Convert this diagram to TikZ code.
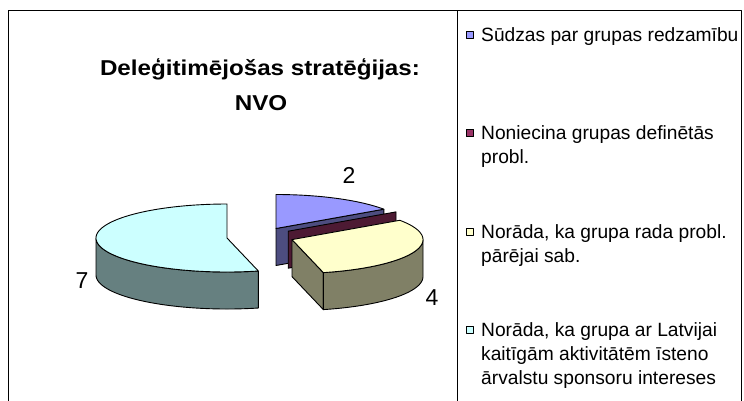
\documentclass[tikz,border=0pt]{standalone}
\usepackage{fontspec}
\usepackage{graphicx}
\setmainfont{Liberation Sans}
\newcommand\myths[1]{\scalebox{1.125}[1]{#1}}
\definecolor{bluetop}{HTML}{9999FF}
\definecolor{blueside}{HTML}{4D4D80}
\definecolor{martop}{HTML}{993366}
\definecolor{marside}{HTML}{4D1A33}
\definecolor{yeltop}{HTML}{FFFFCC}
\definecolor{yelside}{HTML}{808066}
\definecolor{cyntop}{HTML}{CCFFFF}
\definecolor{cynside}{HTML}{668080}
\begin{document}
\begin{tikzpicture}[x=1pt,y=-1pt,line join=round,
  face/.style={draw=black,line width=0.9pt},
  frame/.style={draw=black,line width=1pt},
  lgtext/.style={font=\fontsize{19.2}{24}\selectfont,anchor=base west,inner sep=0pt},
  lgsq/.style={draw=black,line width=0.7pt},
  val/.style={font=\fontsize{23}{26}\selectfont,inner sep=0pt},
  ttl/.style={font=\bfseries\fontsize{21.5}{26}\selectfont,anchor=base,inner sep=0pt}]
\useasboundingbox (0,0) rectangle (744,400);
\clip (0,0) rectangle (744,400);
% frame
\draw[frame] (8,10.5) rectangle (741,420);
\draw[frame] (457.7,10.5) -- (457.7,420);
% title
\node[ttl] (t1) at (260,75) {\myths{Deleģitimējošas stratēģijas:}};
\node[ttl] (t2) at (261,110) {\myths{NVO}};
% ---- cyan slice (7)
\def\cxa{227}\def\cya{238}
\draw[face,fill=cynside] plot[domain=180:283.85,samples=60] ({\cxa+131*cos(\x)},{\cya-34*sin(\x)})
  -- plot[domain=283.85:180,samples=60] ({\cxa+131*cos(\x)},{\cya-34*sin(\x)+37}) -- cycle;
\draw[face,fill=cyntop] (\cxa,\cya) -- plot[domain=90:283.85,samples=90] ({\cxa+131*cos(\x)},{\cya-34*sin(\x)}) -- cycle;
% ---- blue slice (2)
\def\cxb{276}\def\cyb{228.5}
\coordinate (btip) at ({\cxb+131*cos(34.62)},{\cyb-34*sin(34.62)});
\draw[face,fill=blueside] (\cxb,\cyb) -- (btip) -- ++(0,37) -- (\cxb,{\cyb+37}) -- cycle;
\draw[face,fill=bluetop] (\cxb,\cyb) -- plot[domain=34.62:90,samples=40] ({\cxb+131*cos(\x)},{\cyb-34*sin(\x)}) -- cycle;
% ---- maroon slice (0)
\def\cxm{288.2}\def\cym{231.2}
\coordinate (mtip) at ({\cxm+131*cos(34.62)},{\cym-34*sin(34.62)});
\draw[face,fill=marside] (\cxm,\cym) -- (mtip) -- ++(0,37) -- (\cxm,{\cym+37}) -- cycle;
% ---- yellow slice (4)
\def\cxy{292}\def\cyy{239.6}
\coordinate (yfront) at ({\cxy+131*cos(-76.15)},{\cyy-34*sin(-76.15)});
\draw[face,fill=yelside] (\cxy,\cyy) -- (yfront) -- ++(0,37) -- (\cxy,{\cyy+37}) -- cycle;
\draw[face,fill=yelside] plot[domain=-76.15:0,samples=40] ({\cxy+131*cos(\x)},{\cyy-34*sin(\x)})
  -- plot[domain=0:-76.15,samples=40] ({\cxy+131*cos(\x)},{\cyy-34*sin(\x)+37}) -- cycle;
\draw[face,fill=yeltop] (\cxy,\cyy) -- plot[domain=-76.15:34.62,samples=70] ({\cxy+131*cos(\x)},{\cyy-34*sin(\x)}) -- cycle;
% ---- value labels
\node[val] (v2) at (349,175) {2};
\node[val] (v7) at (82,281) {7};
\node[val] (v4) at (432,298) {4};
% ---- legend
\draw[lgsq,fill=bluetop] (466,31) rectangle (473.5,38.5);
\node[lgtext] (la1) at (481,41) {Sūdzas par grupas redzamību};
\draw[lgsq,fill=martop] (466,129) rectangle (473.5,136.5);
\node[lgtext] (lb1) at (481,139) {Noniecina grupas definētās};
\node[lgtext] (lb2) at (481,163) {probl.};
\draw[lgsq,fill=yeltop] (466,228) rectangle (473.5,235.5);
\node[lgtext] (lc1) at (481,238) {Norāda, ka grupa rada probl.};
\node[lgtext] (lc2) at (481,262) {pārējai sab.};
\draw[lgsq,fill=cyntop] (466,326) rectangle (473.5,333.5);
\node[lgtext] (ld1) at (481,336) {Norāda, ka grupa ar Latvijai};
\node[lgtext] (ld2) at (481,360) {kaitīgām aktivitātēm īsteno};
\node[lgtext] (ld3) at (481,384) {ārvalstu sponsoru intereses};
\end{tikzpicture}
\end{document}
